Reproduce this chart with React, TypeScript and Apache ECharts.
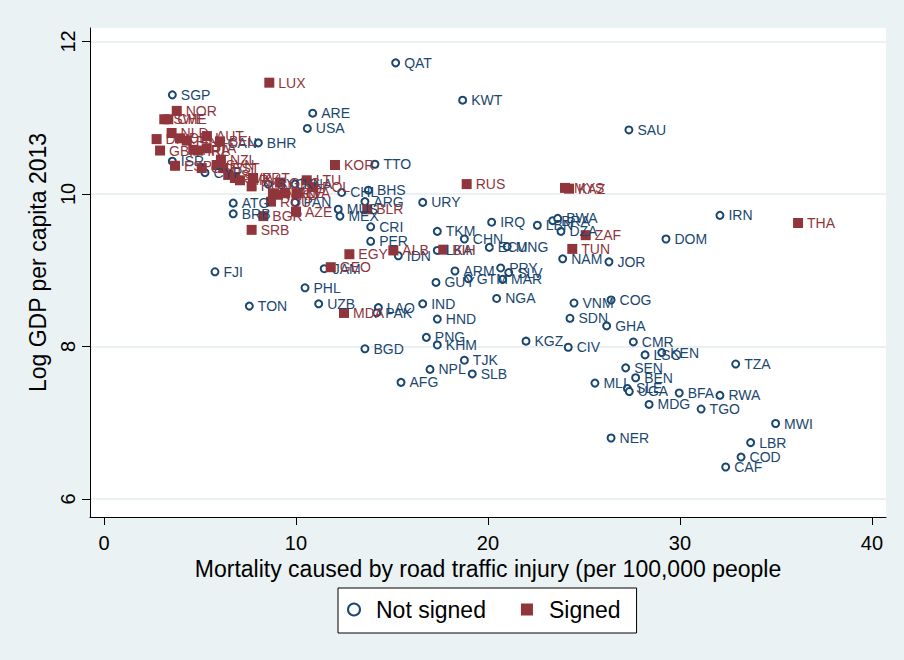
import React, { useEffect, useRef } from "react";
import * as echarts from "echarts";

// Not signed (hollow circles)
const notSignedCodes = [
  "QAT","KWT","ARE","USA","TTO","SAU","SGP","BHR","CAN","ISR","CYP","SYC","KNA","CHL","BHS","ARG","MUS","MEX","CRI","PER",
  "URY","IDN","TKM","CHN","LKA","ARM","JAM","FJI","PHL","TON","UZB","LAO","PAK","IND","NGA","HND","PNG","KHM","BGD","KGZ",
  "CIV","TJK","NPL","SLB","AFG","IRQ","LBN","BRA","BWA","DZA","ECU","MNG","NAM","PRY","SLV","GTM","MAR","GUY","JOR","DOM",
  "IRN","VNM","COG","SDN","GHA","CMR","LSO","KEN","SEN","BEN","MLI","SLE","UGA","BFA","MDG","TGO","RWA","TZA","MWI","NER",
  "LBR","COD","CAF","ATG","BRB","PAN"
];
const notSignedMortality = [
  15.19,18.68,10.87,10.59,14.11,27.34,3.56,8.04,5.99,3.56,5.26,8.55,9.95,12.38,13.77,13.59,12.2,12.29,13.89,13.89,
  16.6,15.33,17.36,18.77,17.36,18.28,11.47,5.78,10.47,7.57,11.18,14.29,14.2,16.6,20.45,17.36,16.79,17.36,13.59,21.98,
  24.18,18.77,16.98,19.18,15.47,20.19,22.57,23.37,23.63,23.8,20.07,21.0,23.89,20.66,21.08,18.97,20.76,17.29,26.3,29.27,
  32.08,24.48,26.41,24.27,26.18,27.57,28.18,29.05,27.17,27.69,25.57,27.26,27.36,29.96,28.39,31.1,32.08,32.9,34.98,26.41,
  33.68,33.18,32.38,6.73,6.73,9.95
];
const notSignedLogGdp = [
  11.72,11.23,11.06,10.86,10.39,10.84,11.3,10.67,10.67,10.43,10.28,10.13,10.13,10.02,10.05,9.9,9.8,9.71,9.57,9.38,
  9.89,9.19,9.51,9.41,9.26,8.99,9.02,8.98,8.77,8.53,8.56,8.51,8.44,8.56,8.63,8.36,8.12,8.02,7.97,8.07,
  7.99,7.82,7.7,7.64,7.53,9.63,9.59,9.65,9.68,9.51,9.3,9.31,9.15,9.03,8.97,8.89,8.88,8.84,9.11,9.41,
  9.72,8.57,8.61,8.37,8.27,8.06,7.89,7.92,7.72,7.59,7.52,7.45,7.41,7.39,7.24,7.18,7.36,7.77,6.99,6.8,
  6.74,6.55,6.42,9.88,9.74,9.89
];

// Signed (filled squares)
const signedCodes = [
  "LUX","NOR","SWE","CHE","DNK","NLD","DEU","FIN","AUT","BEL","GBR","FRA","IRL","ITA","NZL","ESP","CZE","SVN","EST","ISL",
  "SVK","HRV","PRT","HUN","GRC","LTU","POL","LVA","MNE","MKD","TUR","ROU","BGR","AZE","SRB","KOR","RUS","BLR","EGY","GEO",
  "ALB","BIH","MDA","ZAF","TUN","THA","MYS","KAZ"
];
const signedMortality = [
  8.61,3.79,3.14,3.35,2.74,3.52,3.96,4.31,5.36,6.04,2.92,4.65,4.91,5.35,6.09,3.7,5.09,5.87,6.21,6.47,
  6.82,7.08,7.76,7.69,9.17,10.56,10.89,10.05,9.43,9.06,8.8,8.7,8.3,10.0,7.69,12.03,18.89,13.71,12.78,11.81,
  15.07,17.67,12.5,25.09,24.39,36.15,24.01,24.22
];
const signedLogGdp = [
  11.46,11.09,10.98,10.98,10.72,10.8,10.73,10.7,10.76,10.69,10.57,10.58,10.57,10.6,10.45,10.37,10.34,10.38,10.34,10.25,
  10.21,10.18,10.21,10.1,10.15,10.18,10.09,10.01,10.01,9.99,10.01,9.9,9.71,9.77,9.53,10.38,10.13,9.8,9.21,9.04,
  9.26,9.27,8.44,9.46,9.28,9.62,10.08,10.07
];

const xTicks = [0, 10, 20, 30, 40];
const yTicks = [6, 8, 10, 12];

const NAVY = "#1A476F";
const MAROON = "#90353B";
const FONT = "'Liberation Sans', Arial, Helvetica, sans-serif";

export default function App() {
  const ref = useRef<HTMLDivElement>(null);
  useEffect(() => {
    const chart = echarts.init(ref.current!, null, { renderer: "svg" });
    const ns = notSignedCodes.map((c, i) => [notSignedMortality[i], notSignedLogGdp[i], c]);
    const sg = signedCodes.map((c, i) => [signedMortality[i], signedLogGdp[i], c]);
    chart.setOption({
      animation: false,
      backgroundColor: "#EAF2F3",
      textStyle: { fontFamily: FONT },
      grid: {
        left: 90, right: 18, top: 28, bottom: 143,
        show: true, backgroundColor: "#FFFFFF", borderWidth: 0,
      },
      xAxis: {
        type: "value",
        min: -0.729, max: 40.73,
        name: "Mortality caused by road traffic injury (per 100,000 people",
        nameLocation: "middle",
        nameGap: 31,
        nameTextStyle: { fontSize: 23, color: "#000", fontFamily: FONT },
        axisLine: { show: true, onZero: false, lineStyle: { color: "#000", width: 1 } },
        axisTick: { show: true, length: 8, customValues: xTicks, lineStyle: { color: "#000" } },
        axisLabel: { customValues: xTicks, fontSize: 20, color: "#000", margin: 16, fontFamily: FONT },
        splitLine: { show: false },
      },
      yAxis: {
        type: "value",
        min: 5.764, max: 12.177,
        name: "Log GDP per capita 2013",
        nameLocation: "middle",
        nameRotate: 90,
        nameGap: 41,
        nameTextStyle: { fontSize: 23, color: "#000", fontFamily: FONT, padding: [0, 0, 0, 20] },
        axisLine: { show: true, onZero: false, lineStyle: { color: "#000", width: 1 } },
        axisTick: { show: true, length: 8, customValues: yTicks, lineStyle: { color: "#000" } },
        axisLabel: { customValues: yTicks, fontSize: 20, color: "#000", rotate: 90, margin: 12, fontFamily: FONT },
        splitLine: { show: true, lineStyle: { color: "#E3ECEF", width: 1.5 } },
      },
      legend: {
        left: 338, top: 588,
        orient: "horizontal",
        backgroundColor: "#FFFFFF",
        borderColor: "#000",
        borderWidth: 1,
        borderRadius: 0,
        padding: [10, 16, 12, 9],
        itemWidth: 34, itemHeight: 12,
        itemGap: 35,
        symbolKeepAspect: true,
        textStyle: { color: "#000", fontSize: 23, fontFamily: FONT },
        data: [
          { name: "Not signed", icon: "circle" },
          { name: "Signed", icon: "path://M0,0L10,0L10,10L0,10Z" },
        ],
      },
      series: [
        {
          name: "Not signed",
          type: "scatter",
          symbol: "circle",
          symbolSize: 7,
          itemStyle: { color: "#FFFFFF", borderColor: NAVY, borderWidth: 2, opacity: 1 },
          label: {
            show: true, position: "right", distance: 4,
            formatter: (p: any) => p.value[2],
            color: NAVY, fontSize: 14, fontFamily: FONT,
          },
          data: ns,
        },
        {
          name: "Signed",
          type: "scatter",
          symbol: "rect",
          symbolSize: 10,
          itemStyle: { color: MAROON, opacity: 1 },
          label: {
            show: true, position: "right", distance: 4,
            formatter: (p: any) => p.value[2],
            color: MAROON, fontSize: 14, fontFamily: FONT,
          },
          data: sg,
        },
      ],
    });
    return () => chart.dispose();
  }, []);
  return (
    <div
      ref={ref}
      style={{ position: "fixed", left: 0, top: 0, width: 904, height: 660, background: "#EAF2F3" }}
    />
  );
}
